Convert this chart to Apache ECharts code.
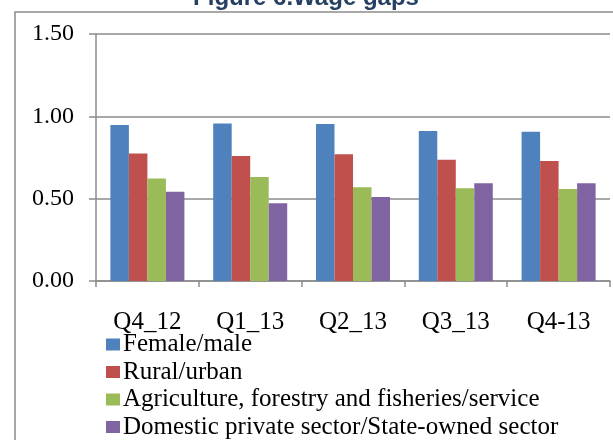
<!DOCTYPE html>
<html>
<head>
<meta charset="utf-8">
<script src="https://cdn.jsdelivr.net/npm/echarts@6/dist/echarts.min.js"></script>
<style>
  html, body { margin: 0; padding: 0; background: #fff; }
  #wageGaps { width: 613px; height: 440px; }
</style>
</head>
<body>
<div id="wageGaps"></div>
<script>
  // quarters on the x axis
  const quarters = ['Q4_12', 'Q1_13', 'Q2_13', 'Q3_13', 'Q4-13']
  const seriesNames = [
    'Female/male',
    'Rural/urban',
    'Agriculture, forestry and fisheries/service',
    'Domestic private sector/State-owned sector'
  ]
  // ratios
  const femaleMale = [0.947, 0.957, 0.953, 0.911, 0.907]
  const ruralUrban = [0.775, 0.759, 0.769, 0.737, 0.729]
  const agriService = [0.623, 0.631, 0.569, 0.563, 0.559]
  const privateState = [0.542, 0.472, 0.510, 0.593, 0.593]
  const yTicks = [0, 0.5, 1.0, 1.5]

  const colors = ['#4F81BD', '#C0504D', '#9BBB59', '#8064A2']
  const values = [femaleMale, ruralUrban, agriService, privateState]
  const serif = '"Liberation Serif", "Times New Roman", serif'

  let myChart = echarts.init(document.getElementById('wageGaps'))
  const option = {
    animation: false,
    textStyle: { fontFamily: serif },
    graphic: [
      {
        type: 'rect',
        silent: true,
        shape: { x: 15, y: 12, width: 700, height: 500 },
        style: { fill: 'none', stroke: '#8c8c8c', lineWidth: 1.5 }
      },
      {
        type: 'text',
        silent: true,
        x: 306,
        y: 10,
        style: {
          text: 'Figure 6.Wage gaps',
          font: 'bold 24px "Liberation Sans", Arial, sans-serif',
          fill: '#254061',
          align: 'center',
          verticalAlign: 'bottom'
        }
      }
    ],
    grid: {
      left: 96,
      right: 3,
      top: 34,
      bottom: 159,
      containLabel: false
    },
    legend: {
      orient: 'vertical',
      left: 101,
      top: 327,
      height: 120,
      itemWidth: 14,
      itemHeight: 12,
      itemGap: 2.5,
      icon: 'rect',
      textStyle: {
        fontFamily: serif,
        fontSize: 25,
        lineHeight: 25,
        color: '#000',
        padding: [0, 0, 0, -2]
      },
      data: seriesNames
    },
    xAxis: {
      type: 'category',
      data: quarters,
      axisLine: { lineStyle: { color: '#8c8c8c', width: 1.5 } },
      axisTick: {
        show: true,
        alignWithLabel: false,
        length: 6,
        lineStyle: { color: '#8c8c8c', width: 1.5 }
      },
      axisLabel: {
        margin: 29,
        fontSize: 25,
        color: '#000',
        fontFamily: serif
      }
    },
    yAxis: {
      type: 'value',
      min: yTicks[0],
      max: yTicks[yTicks.length - 1],
      interval: 0.5,
      axisLine: { show: true, lineStyle: { color: '#8c8c8c', width: 1.5 } },
      axisTick: { show: true, length: 7, lineStyle: { color: '#8c8c8c', width: 1.5 } },
      splitLine: { lineStyle: { color: '#8c8c8c', width: 1.5 } },
      axisLabel: {
        margin: 22,
        fontSize: 24,
        color: '#000',
        fontFamily: serif,
        formatter: function (v) { return v.toFixed(2) }
      }
    },
    series: seriesNames.map(function (name, i) {
      return {
        name: name,
        type: 'bar',
        barGap: '0%',
        barCategoryGap: '28%',
        itemStyle: { color: colors[i] },
        data: values[i]
      }
    })
  }
  myChart.setOption(option)
</script>
</body>
</html>
